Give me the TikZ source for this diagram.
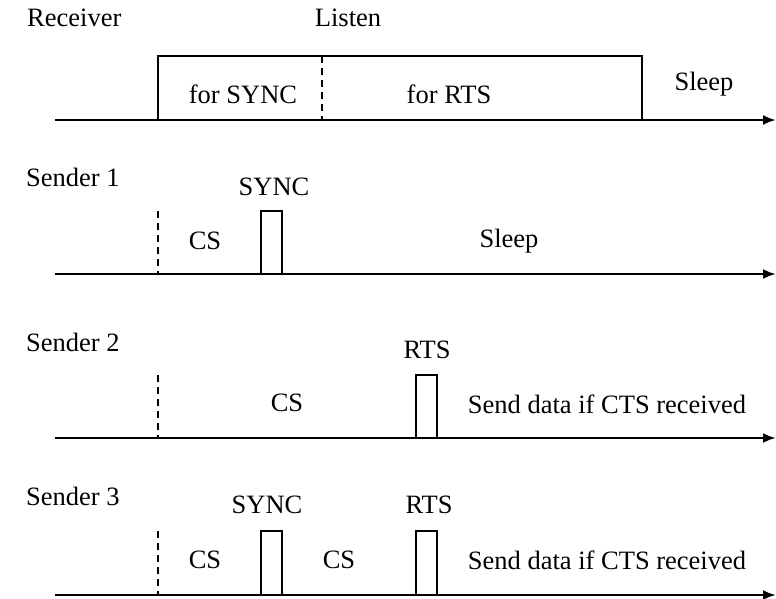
\documentclass[tikz,border=0pt]{standalone}
\usepackage{fontspec}
\setmainfont{Liberation Serif}
\usetikzlibrary{arrows.meta}
\begin{document}
\begin{tikzpicture}[x=1pt,y=-1pt,
  lbl/.style={font=\fontsize{26.5}{30}\selectfont, inner sep=0pt, anchor=center},
  rowlbl/.style={lbl, anchor=west},
  axis/.style={line width=2.5pt, -{Latex[length=13pt,width=10pt]}},
  pulse/.style={line width=2.5pt},
  divline/.style={line width=2.5pt, dash pattern=on 7pt off 5pt}]
\useasboundingbox (0,0) rectangle (776,598);
% ---------- Receiver ----------
\node[rowlbl] (rcv) at (27,18) {Receiver};
\node[lbl] (listen) at (348,18) {Listen};
\coordinate (r0) at (55,120);
\coordinate (r1) at (776,120);
\coordinate (rb1) at (158,120); \coordinate (rt1) at (158,56);
\coordinate (rb2) at (642,120); \coordinate (rt2) at (642,56);
\coordinate (rdb) at (322,120); \coordinate (rdt) at (322,56);
\draw[axis] (r0) -- (r1);
\draw[pulse] (rb1) -- (rt1) -- (rt2) -- (rb2);
\draw[divline] (rdt) -- (rdb);
\node[lbl] (fsync) at (243,94) {for SYNC};
\node[lbl] (frts) at (449,94) {for RTS};
\node[lbl] (rsleep) at (704,84) {Sleep};
% ---------- Sender 1 ----------
\node[rowlbl] (s1) at (26,177) {Sender 1};
\coordinate (a0) at (55,274);
\coordinate (a1) at (776,274);
\coordinate (ad0) at (158,274); \coordinate (ad1) at (158,211);
\coordinate (ap0) at (261,274); \coordinate (ap1) at (261,211);
\coordinate (ap2) at (282,211); \coordinate (ap3) at (282,274);
\draw[axis] (a0) -- (a1);
\draw[divline] (ad1) -- (ad0);
\draw[pulse] (ap0) -- (ap1) -- (ap2) -- (ap3);
\node[lbl] (s1sync) at (274,187) {SYNC};
\node[lbl] (s1cs) at (205,241) {CS};
\node[lbl] (s1sleep) at (509,241) {Sleep};
% ---------- Sender 2 ----------
\node[rowlbl] (s2) at (26,342) {Sender 2};
\coordinate (b0) at (55,438);
\coordinate (b1) at (776,438);
\coordinate (bd0) at (158,438); \coordinate (bd1) at (158,375);
\coordinate (bp0) at (416,438); \coordinate (bp1) at (416,375);
\coordinate (bp2) at (437,375); \coordinate (bp3) at (437,438);
\draw[axis] (b0) -- (b1);
\draw[divline] (bd1) -- (bd0);
\draw[pulse] (bp0) -- (bp1) -- (bp2) -- (bp3);
\node[lbl] (s2rts) at (427,350) {RTS};
\node[lbl] (s2cs) at (287,403) {CS};
\node[lbl] (s2send) at (607,404) {Send data if CTS received};
% ---------- Sender 3 ----------
\node[rowlbl] (s3) at (26,496) {Sender 3};
\coordinate (c0) at (55,595);
\coordinate (c1) at (776,595);
\coordinate (cd0) at (158,595); \coordinate (cd1) at (158,531);
\coordinate (cp0) at (261,595); \coordinate (cp1) at (261,531);
\coordinate (cp2) at (282,531); \coordinate (cp3) at (282,595);
\coordinate (cq0) at (416,595); \coordinate (cq1) at (416,531);
\coordinate (cq2) at (437,531); \coordinate (cq3) at (437,595);
\draw[axis] (c0) -- (c1);
\draw[divline] (cd1) -- (cd0);
\draw[pulse] (cp0) -- (cp1) -- (cp2) -- (cp3);
\draw[pulse] (cq0) -- (cq1) -- (cq2) -- (cq3);
\node[lbl] (s3sync) at (267,505) {SYNC};
\node[lbl] (s3rts) at (429,505) {RTS};
\node[lbl] (s3cs1) at (205,560) {CS};
\node[lbl] (s3cs2) at (339,560) {CS};
\node[lbl] (s3send) at (607,560) {Send data if CTS received};
\end{tikzpicture}
\end{document}
